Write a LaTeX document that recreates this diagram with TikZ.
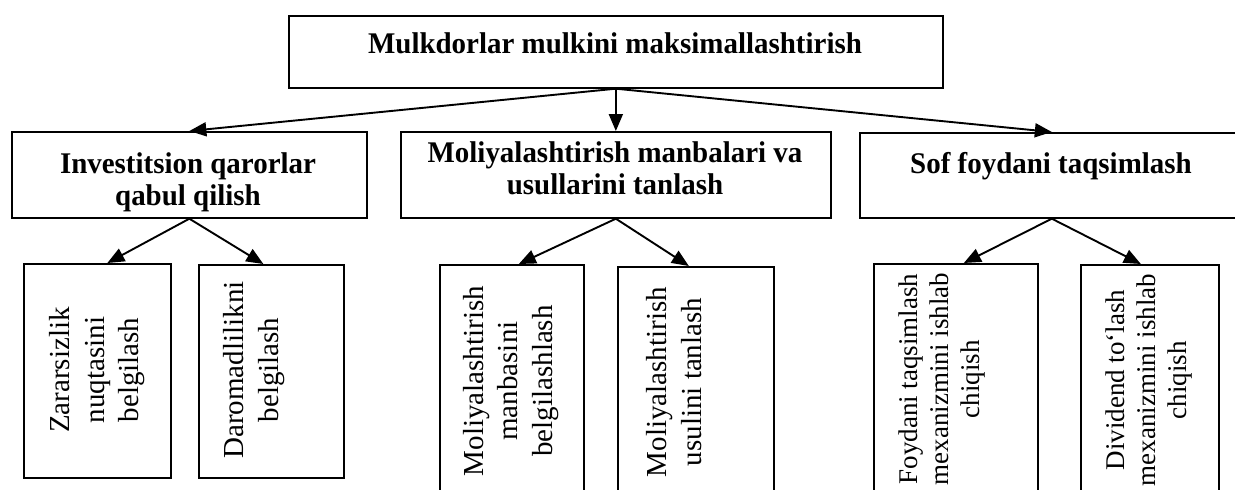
\documentclass[tikz,border=0pt]{standalone}
\usepackage{fontspec}
\setmainfont{Liberation Serif}
\usetikzlibrary{arrows.meta,calc}
\begin{document}
\begin{tikzpicture}[x=1pt,y=-1pt,
  box/.style={draw, line width=1.7pt, inner sep=0pt, rectangle, anchor=north west},
  conn/.style={line width=1.9pt, -{Triangle[length=17pt,width=14pt]}},
  btext/.style={font=\fontsize{30}{32}\selectfont\bfseries, align=center, inner sep=0pt, anchor=north, xscale=0.965},
  vtext/.style={font=\fontsize{29}{34.5}\selectfont, align=center, inner sep=0pt, rotate=90},
  vsmall/.style={font=\fontsize{27}{31}\selectfont, align=center, inner sep=0pt, rotate=90}]
\useasboundingbox (0,0) rectangle (1235,490);
\clip (0,0) rectangle (1235,490);
% boxes
\node[box, minimum width=654pt, minimum height=72pt] (top) at (288,15) {};
\node[box, minimum width=355pt, minimum height=86pt] (inv) at (11,131) {};
\node[box, minimum width=430pt, minimum height=86pt] (mol) at (400,131) {};
\node[box, minimum width=384pt, minimum height=85pt] (sof) at (859,132) {};
\node[box, minimum width=147pt, minimum height=214pt] (za) at (23,263) {};
\node[box, minimum width=145pt, minimum height=213pt] (da) at (198,264) {};
\node[box, minimum width=144pt, minimum height=240pt] (mm) at (439,264) {};
\node[box, minimum width=156pt, minimum height=240pt] (mu) at (617,266) {};
\node[box, minimum width=164pt, minimum height=240pt] (ft) at (873,263) {};
\node[box, minimum width=138pt, minimum height=240pt] (dt) at (1080,264) {};
% texts
\node[btext] (ttop) at (615,32) {Mulkdorlar mulkini maksimallashtirish};
\node[btext] (tinv) at (188,152) {Investitsion qarorlar\\qabul qilish};
\node[btext] (tmol) at (615,141) {Moliyalashtirish manbalari va\\usullarini tanlash};
\node[btext] (tsof) at (1051,152) {Sof foydani taqsimlash};
\node[vtext] (tza) at (97.5,370) {Zararsizlik\\nuqtasini\\belgilash};
\node[vtext] (tda) at (254,370) {Daromadlilikni\\belgilash};
\node[vtext] (tmm) at (511,381) {Moliyalashtirish\\manbasini\\belgilashlash};
\node[vtext] (tmu) at (674,382) {Moliyalashtirish\\usulini tanlash};
\node[vsmall] (tft) at (941.5,379) {Foydani taqsimlash\\mexanizmini ishlab\\chiqish};
\node[vsmall] (tdt) at (1148.5,380) {Dividend to‘lash\\mexanizmini ishlab\\chiqish};
% connectors
\draw[conn] (top.south) -- (inv.north);
\draw[conn] (top.south) -- (mol.north);
\draw[conn] (top.south) -- (sof.north);
\draw[conn] (inv.south) -- ([xshift=10pt]za.north);
\draw[conn] (inv.south) -- ([xshift=-8pt]da.north);
\draw[conn] (mol.south) -- ([xshift=7pt]mm.north);
\draw[conn] (mol.south) -- ([xshift=-7pt]mu.north);
\draw[conn] (sof.south) -- ([xshift=8pt]ft.north);
\draw[conn] (sof.south) -- ([xshift=-9pt]dt.north);
\end{tikzpicture}
\end{document}
